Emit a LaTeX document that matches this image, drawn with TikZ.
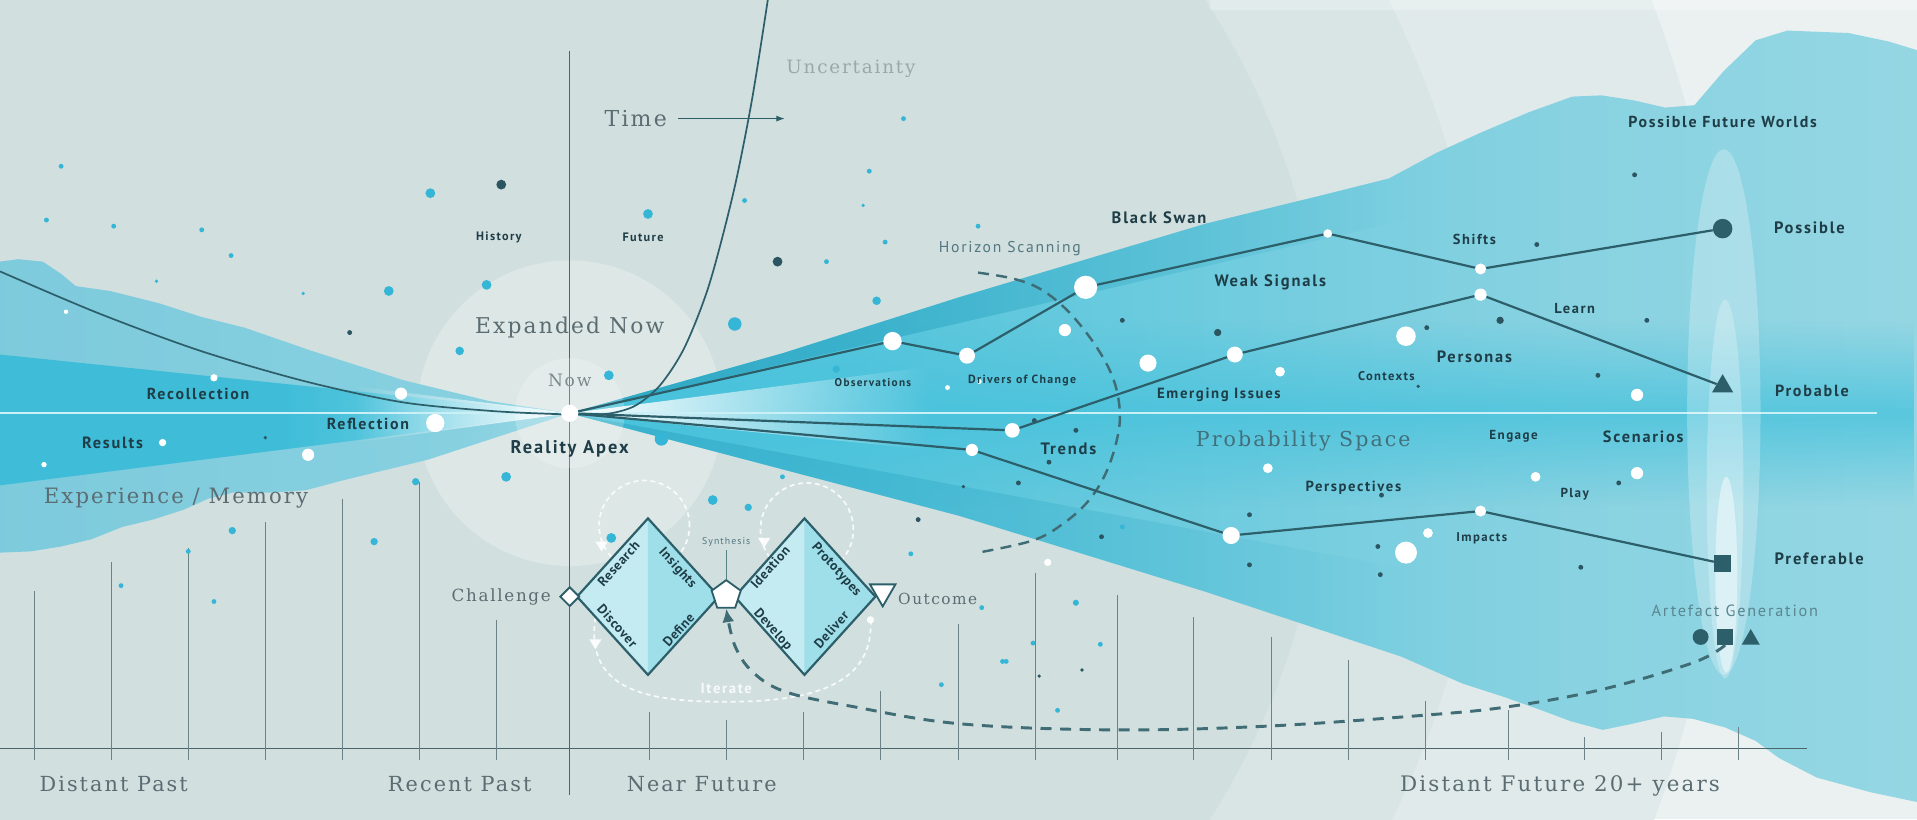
\documentclass[tikz,border=0pt]{standalone}
\usepackage{fontspec}
\usetikzlibrary{fadings,arrows.meta,shapes.geometric}
\setmainfont{DejaVu Serif}
\newfontfamily\slabfont[LetterSpace=10]{DejaVu Serif}
\newfontfamily\labfont[LetterSpace=11]{PT Sans}
\newfontfamily\dmdfont[LetterSpace=4]{PT Sans}
\newcommand{\fsz}[1]{\fontsize{#1}{#1}\selectfont}

% palette
\definecolor{ringA}{HTML}{D1DFDF}
\definecolor{ringB}{HTML}{D9E5E5}
\definecolor{ringC}{HTML}{E1EAEA}
\definecolor{ringD}{HTML}{EBF1F1}
\definecolor{nowdisc}{HTML}{DCE7E6}
\definecolor{lpA}{HTML}{78C7DA}
\definecolor{lpB}{HTML}{86D0E0}
\definecolor{lpC}{HTML}{C4EAF1}
\definecolor{lcA}{HTML}{3FBDD8}
\definecolor{lcB}{HTML}{8ADAE9}
\definecolor{rpA}{HTML}{46BFD9}
\definecolor{rpB}{HTML}{55C5DC}
\definecolor{rpC}{HTML}{88D2E1}
\definecolor{rpD}{HTML}{AFDFE8}
\definecolor{ubA}{HTML}{2FA8C4}
\definecolor{lbA}{HTML}{36AECA}
\definecolor{bandc}{HTML}{45C2DC}
\definecolor{hline}{HTML}{C9F0F6}
\definecolor{netteal}{HTML}{2D5F6B}
\definecolor{dashteal}{HTML}{3F6C75}
\definecolor{ink}{HTML}{1F3D47}
\definecolor{greytext}{HTML}{5B6D72}
\definecolor{axisgrey}{HTML}{4D6469}
\definecolor{tickgrey}{HTML}{6D8287}
\definecolor{dotcyan}{HTML}{36B6D6}
\definecolor{dotdark}{HTML}{2B5560}
\definecolor{dmdL}{HTML}{C4EBF2}
\definecolor{dmdR}{HTML}{9FDFEA}
\definecolor{scantext}{HTML}{527780}
\definecolor{arttext}{HTML}{5A868F}

% shadings for the memory cone and the probability cone
\pgfdeclarehorizontalshading{leftpale}{100bp}{color(0bp)=(lpA); color(65bp)=(lpB); color(100bp)=(lpC)}
\pgfdeclarehorizontalshading{leftcore}{100bp}{color(0bp)=(lcA); color(50bp)=(lcA); color(80bp)=(lcB); color(100bp)=(white)}
\pgfdeclarehorizontalshading{rightpale}{100bp}{color(0bp)=(rpA); color(35bp)=(rpB); color(62bp)=(rpC); color(100bp)=(rpD)}

\tikzfading[name=fadeR, left color=transparent!0, right color=transparent!100]
\tikzfading[name=fadeL, left color=transparent!100, right color=transparent!0]
\tikzfading[name=fadeRmid, left color=transparent!0, middle color=transparent!25, right color=transparent!100]
\tikzfading[name=bandfade, top color=transparent!100, bottom color=transparent!100, middle color=transparent!0]

% outlines of the two coloured regions
\def\leftregion{(466,338) -- (400,328) -- (330,311) -- (255,287) -- (200,268) -- (164,259) -- (130,248) -- (90,238) -- (62,234) -- (50,224) -- (35,214) -- (15,212) -- (0,214) -- (0,452) -- (25,451) -- (50,447) -- (75,441) -- (100,431) -- (125,425) -- (150,417) -- (170,408) -- (190,403) -- (220,403) -- (250,401) -- (280,393) -- (350,376) -- cycle}
\def\rightregion{(466,338) -- (640,289) -- (785,243) -- (986,183) -- (1080,160) -- (1136,146) -- (1175,125) -- (1210,109) -- (1250,92) -- (1286,79) -- (1310,78) -- (1336,82) -- (1362,88) -- (1386,86) -- (1410,58) -- (1436,33) -- (1462,25) -- (1512,27) -- (1545,34) -- (1568,41) -- (1568,656) -- (1530,648) -- (1486,636) -- (1455,620) -- (1436,606) -- (1411,595) -- (1385,588) -- (1361,586) -- (1335,592) -- (1311,597) -- (1285,590) -- (1261,581) -- (1230,570) -- (1196,559) -- (1146,537) -- (986,484) -- (785,422) -- cycle}

\begin{document}
\begin{tikzpicture}[x=1pt,y=-1pt,
  wdot/.style={circle, fill=white, inner sep=0pt, minimum size=#1},
  net/.style={netteal, line width=1.8pt},
  lab/.style={font={\labfont\bfseries\fsz{#1}}, text=ink, inner sep=0pt},
  labreg/.style={font={\labfont\fsz{#1}}, inner sep=0pt},
  serif/.style={font={\slabfont\fsz{#1}}, text=greytext, inner sep=0pt},
  dmdtext/.style={font={\dmdfont\bfseries\fsz{11}}, text=ink, inner sep=0pt},
  darkmark/.style={fill=netteal, inner sep=0pt},
  tealdash/.style={dashteal, line width=2.2pt, dash pattern=on 9pt off 6pt},
  whitedash/.style={white, line width=1.4pt, dash pattern=on 4pt off 3pt, opacity=0.85},
  dmdedge/.style={netteal, line width=1.8pt, line join=miter}]

\useasboundingbox (0,0) rectangle (1568,670);

% ---- background rings around the present
\fill[ringD] (0,0) rectangle (1568,670);
\begin{scope}
  \clip (0,0) rectangle (1568,670);
  \fill[ringC] (466,338) circle[radius=947pt];
  \fill[ringB] (466,338) circle[radius=750pt];
  \fill[ringA] (466,338) circle[radius=620pt];
\end{scope}
\fill[white, opacity=0.25] (990,0) rectangle (1568,8);
\fill[nowdisc] (466,338) circle[radius=125pt];

% ---- memory cone (left)
\shade[shading=leftpale] \leftregion;
\shade[shading=leftcore] (0,290) -- (466,338) -- (0,397) -- cycle;

% ---- probability cone (right)
\shade[shading=rightpale] \rightregion;
\begin{scope}
  \clip \rightregion;
  \fill[bandc, path fading=bandfade, fill opacity=0.75] (466,262) rectangle (1568,414);
  \fill[ubA, path fading=fadeRmid] (466,338) -- (1150,132) -- (1150,180) -- cycle;
  \fill[lbA, path fading=fadeRmid, fill opacity=0.85] (466,338) -- (1150,465) -- (1150,545) -- cycle;
\end{scope}

% ---- glow around the reality apex
\fill[white, path fading=fadeR] (466,338) -- (760,300) -- (760,368) -- cycle;
\fill[white, path fading=fadeL] (466,338) -- (290,316) -- (290,362) -- cycle;
\draw[hline, line width=1.3pt] (0,338) -- (1535,338);

% ---- artefact column
\fill[white, opacity=0.25] (1410,337) ellipse[x radius=30pt, y radius=215pt];
\fill[white, opacity=0.25] (1411,400) ellipse[x radius=15pt, y radius=155pt];
\fill[white, opacity=0.45] (1412,470) ellipse[x radius=9pt, y radius=80pt];

% ---- now circle and time line
\draw[axisgrey, line width=0.9pt] (466,42) -- (466,650);
\fill[white, opacity=0.22] (466,338) circle[radius=45pt];

% ---- timeline axis
\draw[axisgrey, line width=1pt] (0,612) -- (1478,612);
\foreach \x/\t in {28/483, 91/460, 154/448, 217/427, 280/408, 343/394, 406/507, 531/582, 594/589, 657/582, 720/565, 784/510, 847/469, 914/487, 976/505, 1040/521, 1103/540, 1166/573, 1234/581, 1296/603, 1359/599, 1422/595}
  \draw[tickgrey, line width=0.8pt] (\x,\t) -- (\x,622);

% ---- uncertainty curve
\draw[netteal, line width=1.4pt] plot[smooth, tension=0.5] coordinates {(0,222) (80,256) (164,287) (250,312) (329,329) (400,336) (450,338.5) (480,339) (500,338) (520,331.6) (540,315) (560,284) (580,233) (600,157) (615,82) (628,0)};

% ---- scattered points
\foreach \x/\y/\r in {352/158/4, 318/238/4, 398/233/4, 376/287/3.5, 601/265/5.5, 530/175/4, 498/307/4, 541/359/5.5, 414/390/4, 340/394/3, 306/443/3, 190/434/3, 154/451/2, 583/409/4, 500/440/4, 717/246/3.5, 739/97/2, 189/209/2, 50/136/2, 99/479/2, 175/492/2, 684/302/3, 770/560/2, 820/541/2, 880/493/2.5, 745/453/2, 800/185/2, 609/164/2, 676/214/2, 711/140/2, 706/168/1.5, 724/198/2, 38/180/2, 93/185/2, 165/188/2, 128/230/1.5, 248/240/1.5, 612/415/3, 640/390/2, 845/526/2, 823/541/2, 803/497/2, 865/581/2, 918/431/2, 900/527/2}
  \fill[dotcyan] (\x,\y) circle[radius=\r pt];
\foreach \x/\y/\r in {410/151/4, 636/214/4, 286/272/2, 996/272/3, 1227/262/3, 1337/143/2, 1347/262/2, 1307/307/2, 1022/421/2, 1130/405/2, 1022/462/2, 1129/470/2, 1293/464/2, 858/378/2, 918/262/2, 846/344/2, 751/425/2, 1324/395/2, 1167/268/2, 1257/200/2, 217/358/1.5, 788/398/1.5, 1127/447/2, 833/395/2, 901/439/2, 880/352/2, 850/553/1.5, 885/548/1.5, 1160/316/1.5}
  \fill[dotdark] (\x,\y) circle[radius=\r pt];
\foreach \x/\y/\r in {36/380/2.2, 133/362/3, 175/309/3, 252/372/5, 328/322/5, 356/346/7.5, 54/255/1.8, 801/312/2, 871/270/5, 939/297/7, 1047/304/4, 1150/275/8, 1037/383/4, 1256/390/4, 1339/323/5, 1339/387/5, 1150/452/9, 1168/436/4, 857/460/3, 775/317/2}
  \fill[white] (\x,\y) circle[radius=\r pt];

% ---- horizon scanning boundary
\coordinate (hsA) at (800,223);
\coordinate (hsB) at (800,452);
\draw[tealdash, line width=2pt] plot[smooth, tension=0.6] coordinates {(hsA) (829,228) (852,237) (875,256) (897,284) (911,311) (916,338) (913,362) (904,388) (890,410) (870,428) (845,442) (hsB)};

% ---- iteration loops of the double diamond
\draw[whitedash] (527,430) circle[radius=37pt];
\draw[whitedash] (660,433) circle[radius=38pt];
\draw[whitedash] (487,505) .. controls (478,565) and (530,574) .. (594,574) .. controls (665,574) and (716,560) .. (712,505);
\fill[white, opacity=0.9] (487,443) -- (497,443) -- (492,451) -- cycle;
\fill[white, opacity=0.9] (620,440) -- (630,440) -- (625,448) -- cycle;
\fill[white, opacity=0.9] (482,523) -- (492,523) -- (487,531) -- cycle;
\fill[white, opacity=0.9] (712,507) circle[radius=3pt];

% ---- double diamond
\coordinate (d1l) at (472,488); \coordinate (d1t) at (530,424);
\coordinate (d1r) at (588,488); \coordinate (d1b) at (530,552);
\coordinate (d2l) at (601,488); \coordinate (d2t) at (658,424);
\coordinate (d2r) at (716,488); \coordinate (d2b) at (658,552);
\fill[dmdL] (d1l) -- (d1t) -- (d1b) -- cycle;
\fill[dmdR] (d1t) -- (d1r) -- (d1b) -- cycle;
\draw[dmdedge] (d1l) -- (d1t) -- (d1r) -- (d1b) -- cycle;
\fill[dmdL] (d2l) -- (d2t) -- (d2b) -- cycle;
\fill[dmdR] (d2t) -- (d2r) -- (d2b) -- cycle;
\draw[dmdedge] (d2l) -- (d2t) -- (d2r) -- (d2b) -- cycle;

\node[dmdtext, rotate=48] (research) at (506,461) {Research};
\node[dmdtext, rotate=-48] (insights) at (554,465) {Insights};
\node[dmdtext, rotate=-48] (discover) at (505,512) {Discover};
\node[dmdtext, rotate=48] (define) at (555,515) {Define};
\node[dmdtext, rotate=48] (ideation) at (630,464) {Ideation};
\node[dmdtext, rotate=-48] (prototypes) at (684,466) {Prototypes};
\node[dmdtext, rotate=-48] (develop) at (632,515) {Develop};
\node[dmdtext, rotate=48] (deliver) at (680,515) {Deliver};

\node[diamond, aspect=1, minimum size=16pt, inner sep=0pt, fill=white, draw=netteal, line width=1.5pt] (chm) at (466,488) {};
\node[regular polygon, regular polygon sides=5, minimum size=25pt, inner sep=0pt, fill=white, draw=netteal, line width=1.5pt] (pent) at (594,487) {};
\node[regular polygon, regular polygon sides=3, shape border rotate=180, minimum size=24pt, inner sep=0pt, fill=white, draw=netteal, line width=1.5pt] (outm) at (722,484) {};
\node[labreg=8, text=scantext] (synl) at (594,443) {Synthesis};
\draw[netteal!80, line width=0.8pt] (synl.south) ++(0,-3pt) -- (pent.north);
\node[lab=12, text=white, opacity=0.85] (iter) at (594,563) {Iterate};

% ---- future markers
\node[circle, darkmark, minimum size=16pt] (possm) at (1409,187) {};
\node[regular polygon, regular polygon sides=3, darkmark, minimum size=20pt] (probm) at (1409,316) {};
\node[rectangle, darkmark, minimum size=14pt] (prefm) at (1409,461) {};
\node[circle, darkmark, minimum size=13pt] (artc) at (1391,521) {};
\node[rectangle, darkmark, minimum size=13pt] (arts) at (1411,521) {};
\node[regular polygon, regular polygon sides=3, darkmark, minimum size=17pt] (artt) at (1432,523) {};

% ---- feedback from artefacts to synthesis
\draw[tealdash, line width=2.4pt, dash pattern=on 9pt off 7pt, -{Latex[length=11pt,width=10pt]}] plot[smooth, tension=0.6] coordinates {(arts.south) (1385,542) (1310,564) (1234,578) (1165,585) (1035,594) (910,597) (785,592) (698,578) (643,566) (616,550) (601,528) (pent.south)};

% ---- paths through the probability space
\node[wdot=14pt] (apex) at (466,338) {};
\node[wdot=15pt] (obs) at (730,279) {};
\node[wdot=13pt] (drv) at (791,291) {};
\node[wdot=19pt] (bsw) at (888,235) {};
\node[wdot=7pt] (bsr) at (1086,191) {};
\node[wdot=9pt] (shu) at (1211,220) {};
\node[wdot=12pt] (trd) at (828,352) {};
\node[wdot=13pt] (emi) at (1010,290) {};
\node[wdot=10pt] (lrn) at (1211,241) {};
\node[wdot=10pt] (ptr) at (795,368) {};
\node[wdot=14pt] (per) at (1007,438) {};
\node[wdot=9pt] (imp) at (1211,418) {};

\draw[net] (apex) -- (obs) -- (drv) -- (bsw) -- (bsr) -- (shu) -- (possm);
\draw[net] (apex) -- (trd) -- (emi) -- (lrn) -- (probm);
\draw[net] (apex) -- (ptr) -- (per) -- (imp) -- (prefm);

% ---- serif headings
\node[serif=18] (time) at (520,97) {Time};
\coordinate (timeend) at (642,97);
\draw[netteal, line width=1pt, -{Latex[length=7pt,width=5pt]}] ([xshift=9pt]time.east) -- (timeend);
\node[serif=15, text=greytext!60] (unc) at (696,56) {Uncertainty};
\node[serif=17.8] (expnow) at (466,268) {Expanded Now};
\node[serif=14, text=greytext!80] (nowl) at (466,311) {Now};
\node[serif=17.3] (expmem) at (144,407) {Experience / Memory};
\node[serif=16.8, text=netteal!90] (probsp) at (1066,361) {Probability Space};
\node[serif=13.7] (chal) at (410,488) {Challenge};
\node[serif=12.5] (outc) at (767,490) {Outcome};
\node[serif=17] (dpast) at (93,641) {Distant Past};
\node[serif=17] (rpast) at (376,641) {Recent Past};
\node[serif=17] (nfut) at (574,641) {Near Future};
\node[serif=17.5] (dfut) at (1276,643) {Distant Future 20+ years};

% ---- sans labels
\node[lab=10] (hist) at (408,194) {History};
\node[lab=10] (fut) at (526,194) {Future};
\node[lab=13] (recol) at (162,322) {Recollection};
\node[lab=13.3] (res) at (92,362) {Results};
\node[lab=13] (refl) at (301,347) {Reflection};
\node[lab=15] (rapex) at (466,367) {Reality Apex};
\node[lab=9.2] (obsl) at (714,313) {Observations};
\node[lab=9.7] (drvl) at (836,311) {Drivers of Change};
\node[lab=13.5] (bswl) at (948,178) {Black Swan};
\node[labreg=12.8, text=scantext] (hscan) at (826,203) {Horizon Scanning};
\node[lab=13.5] (wsig) at (1039,231) {Weak Signals};
\node[lab=11.8] (shl) at (1206,196) {Shifts};
\node[lab=11.8] (lrnl) at (1288,252) {Learn};
\node[lab=13] (pfw) at (1409,100) {Possible Future Worlds};
\node[lab=13.5] (possl) at (1480,186) {Possible};
\node[lab=13.2] (probl) at (1482,320) {Probable};
\node[lab=13.5] (prefl) at (1488,457) {Preferable};
\node[lab=13.4] (pers) at (1206,292) {Personas};
\node[lab=10.3] (ctx) at (1134,308) {Contexts};
\node[lab=12.1] (emil) at (997,323) {Emerging Issues};
\node[lab=13.5] (trl) at (874,367) {Trends};
\node[lab=10.7] (eng) at (1238,357) {Engage};
\node[lab=13.3] (scen) at (1344,357) {Scenarios};
\node[lab=12] (persp) at (1107,399) {Perspectives};
\node[lab=10.7] (play) at (1288,404) {Play};
\node[lab=10.4] (impl) at (1212,440) {Impacts};
\node[labreg=13.3, text=arttext] (artg) at (1419,500) {Artefact Generation};

\end{tikzpicture}
\end{document}
